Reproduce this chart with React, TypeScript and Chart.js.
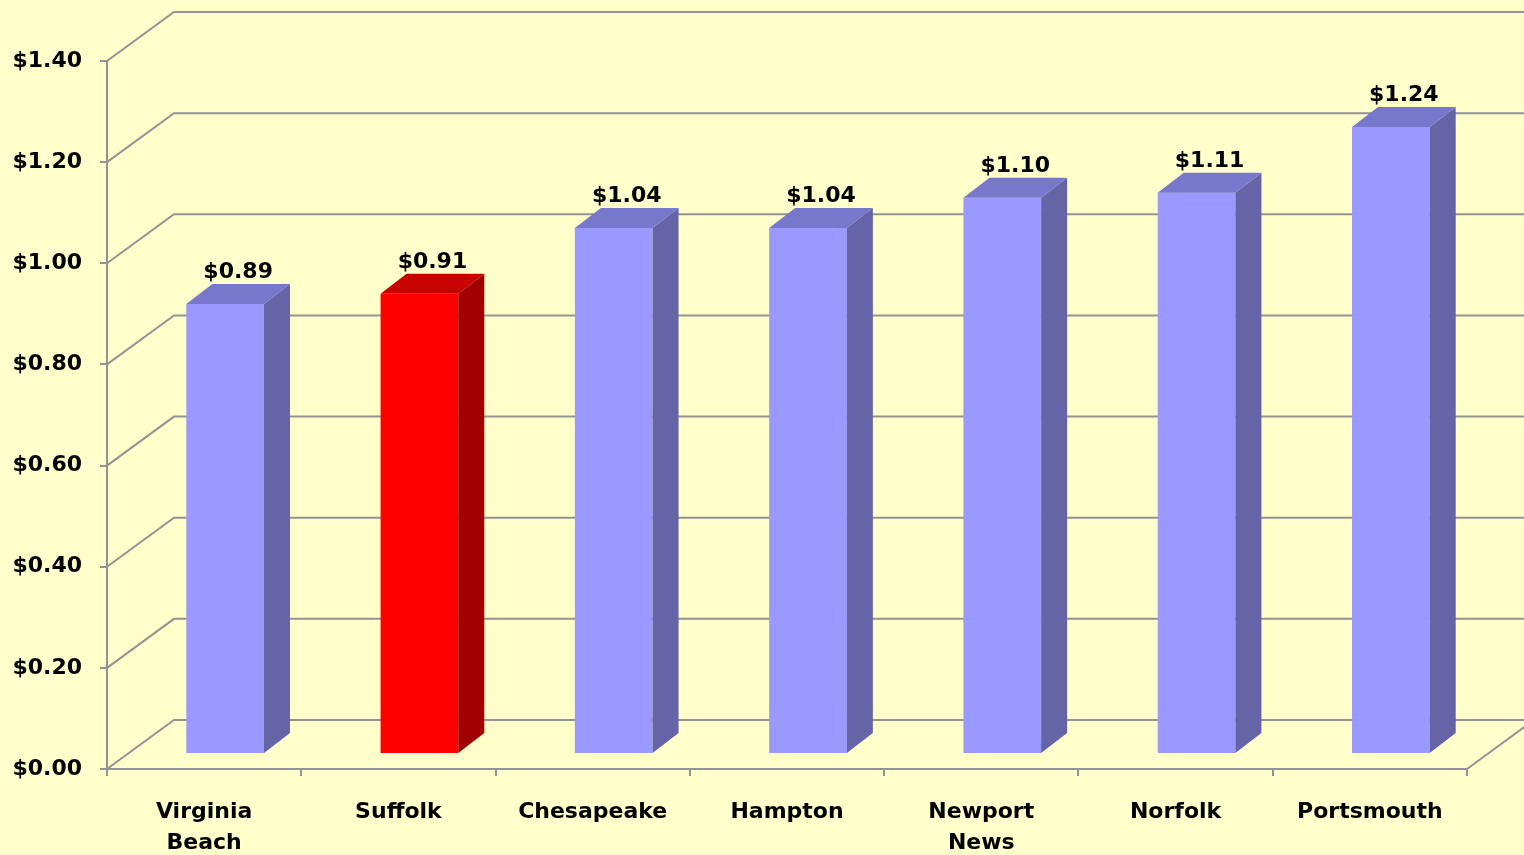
import React, { useEffect, useRef } from 'react';
import { Chart, registerables } from 'chart.js';

Chart.register(...registerables);

// ---- data ----
const categories: (string | string[])[] = [
  ['Virginia', 'Beach'],
  'Suffolk',
  'Chesapeake',
  'Hampton',
  ['Newport', 'News'],
  'Norfolk',
  'Portsmouth',
];
const values: number[] = [0.89, 0.91, 1.04, 1.04, 1.1, 1.11, 1.24];
const highlighted: boolean[] = [false, true, false, false, false, false, false];
const yTickValues: number[] = [0, 0.2, 0.4, 0.6, 0.8, 1.0, 1.2, 1.4];

// ---- style ----
const BG = '#FFFFCC';
const GRID = '#939393';
const FONT = '"DejaVu Sans", "Liberation Sans", Arial, sans-serif';
const FRONT = '#9999FF';
const TOP = '#7777CC';
const SIDE = '#6464A6';
const H_FRONT = '#FF0000';
const H_TOP = '#C80000';
const H_SIDE = '#A00000';

const WALL_DX = 67;
const WALL_DY = -49;
const BAR_DX = 21;
const BAR_DY = -15;
const SIDE_DX = 26;
const SIDE_DY = -20;

const threeD = {
  id: 'threeD',
  beforeDatasetsDraw(chart: any) {
    const { ctx, chartArea, scales } = chart;
    const y = scales.y;
    ctx.save();
    ctx.strokeStyle = GRID;
    ctx.lineWidth = 2;
    for (const v of yTickValues) {
      const py = y.getPixelForValue(v);
      ctx.beginPath();
      ctx.moveTo(chartArea.left, py);
      ctx.lineTo(chartArea.left + WALL_DX, py + WALL_DY);
      ctx.lineTo(chart.width + 5, py + WALL_DY);
      ctx.stroke();
    }
    const p0 = y.getPixelForValue(0);
    ctx.beginPath();
    ctx.moveTo(chartArea.right, p0);
    ctx.lineTo(chartArea.right + WALL_DX, p0 + WALL_DY);
    ctx.stroke();
    ctx.restore();
    ctx.save();
    ctx.translate(BAR_DX, BAR_DY);
  },
  afterDatasetsDraw(chart: any) {
    const { ctx } = chart;
    ctx.restore();
    const meta = chart.getDatasetMeta(0);
    ctx.save();
    meta.data.forEach((bar: any, i: number) => {
      const { x, y, base, width } = bar.getProps(['x', 'y', 'base', 'width'], true);
      const l = x - width / 2 + BAR_DX;
      const r = x + width / 2 + BAR_DX;
      const t = y + BAR_DY;
      const b = base + BAR_DY;
      // side face
      ctx.fillStyle = highlighted[i] ? H_SIDE : SIDE;
      ctx.beginPath();
      ctx.moveTo(r, t);
      ctx.lineTo(r + SIDE_DX, t + SIDE_DY);
      ctx.lineTo(r + SIDE_DX, b + SIDE_DY);
      ctx.lineTo(r, b);
      ctx.closePath();
      ctx.fill();
      // top face
      ctx.fillStyle = highlighted[i] ? H_TOP : TOP;
      ctx.beginPath();
      ctx.moveTo(l, t);
      ctx.lineTo(l + SIDE_DX, t + SIDE_DY);
      ctx.lineTo(r + SIDE_DX, t + SIDE_DY);
      ctx.lineTo(r, t);
      ctx.closePath();
      ctx.fill();
      // value label
      ctx.fillStyle = '#000000';
      ctx.font = `bold 22px ${FONT}`;
      ctx.textAlign = 'center';
      ctx.textBaseline = 'alphabetic';
      ctx.fillText('$' + values[i].toFixed(2), x + BAR_DX + SIDE_DX / 2, t + SIDE_DY - 6);
    });
    ctx.restore();
  },
};

export default function App() {
  const ref = useRef<HTMLCanvasElement | null>(null);

  useEffect(() => {
    if (!ref.current) return;
    const chart = new Chart(ref.current, {
      type: 'bar',
      data: {
        labels: categories as any,
        datasets: [
          {
            data: values,
            backgroundColor: highlighted.map((h) => (h ? H_FRONT : FRONT)),
            borderWidth: 0,
            categoryPercentage: 1,
            barPercentage: 0.4,
          },
        ],
      },
      options: {
        responsive: false,
        animation: false,
        layout: { padding: { top: 61, right: 57, left: 0, bottom: 0 } },
        plugins: {
          legend: { display: false },
          tooltip: { enabled: false },
        },
        scales: {
          y: {
            min: 0,
            max: 1.4,
            afterFit: (s: any) => {
              s.width = 107;
            },
            afterBuildTicks: (s: any) => {
              s.ticks = yTickValues.map((v) => ({ value: v }));
            },
            border: { display: true, color: GRID, width: 2 },
            grid: {
              drawOnChartArea: false,
              color: GRID,
              lineWidth: 2,
              tickLength: 7,
            },
            ticks: {
              padding: 18,
              color: '#000000',
              font: { family: FONT, size: 22, weight: 'bold' },
              callback: (v: any) => '$' + Number(v).toFixed(2),
            },
          },
          x: {
            afterFit: (s: any) => {
              s.height = 86;
            },
            border: { display: true, color: GRID, width: 2 },
            grid: {
              drawOnChartArea: false,
              color: GRID,
              lineWidth: 2,
              tickLength: 7,
              offset: true,
            },
            ticks: {
              padding: 21,
              color: '#000000',
              maxRotation: 0,
              autoSkip: false,
              font: { family: FONT, size: 22, weight: 'bold', lineHeight: 1.4 },
            },
          },
        },
      } as any,
      plugins: [threeD],
    });
    return () => chart.destroy();
  }, []);

  return (
    <div
      style={{
        position: 'fixed',
        left: 0,
        top: 0,
        width: 1524,
        height: 855,
        background: BG,
      }}
    >
      <canvas ref={ref} width={1524} height={855} style={{ display: 'block' }} />
    </div>
  );
}
